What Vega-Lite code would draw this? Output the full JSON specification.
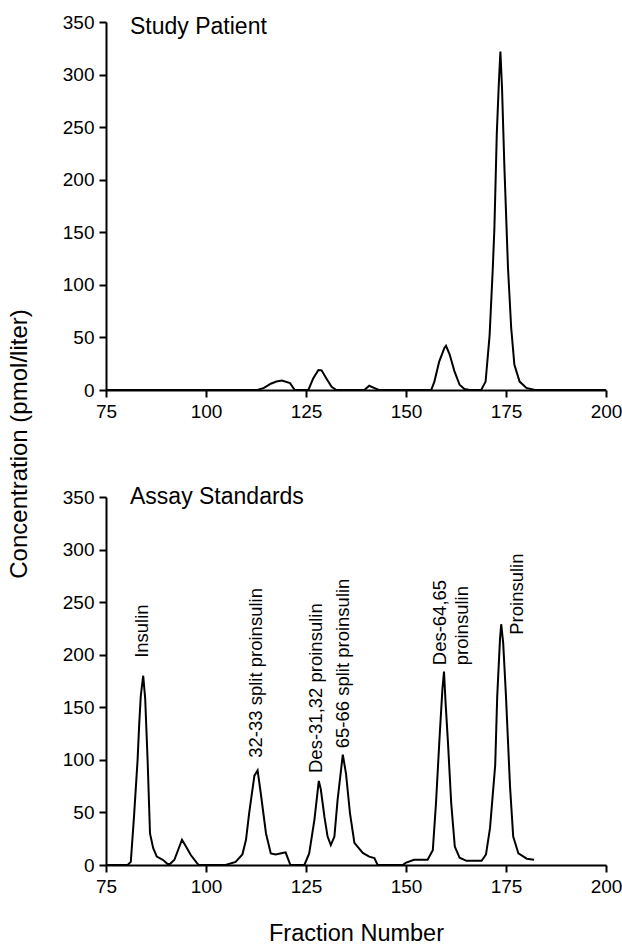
{
  "$schema": "https://vega.github.io/schema/vega-lite/v6.json",
  "background": "white",
  "padding": {"left": 7, "top": 13, "right": 0, "bottom": 0},
  "config": {
    "view": {"stroke": null},
    "font": "Liberation Sans",
    "axis": {
      "domainColor": "black", "domainWidth": 2,
      "tickColor": "black", "tickWidth": 2, "tickSize": 7,
      "labelColor": "black", "labelFont": "Liberation Sans", "labelFontSize": 19, "labelPadding": 5,
      "labelFlush": false, "labelOverlap": false,
      "grid": false,
      "titleColor": "black", "titleFont": "Liberation Sans", "titleFontWeight": "normal", "titleFontSize": 23.5
    }
  },
  "datasets": {
    "patient": [
      {"fraction": 75, "conc": 0}, {"fraction": 112.9, "conc": 0}, {"fraction": 114.5, "conc": 2}, {"fraction": 116.2, "conc": 6},
      {"fraction": 117.6, "conc": 8}, {"fraction": 119.0, "conc": 9}, {"fraction": 121.0, "conc": 6.5}, {"fraction": 122.2, "conc": 0},
      {"fraction": 125.6, "conc": 0}, {"fraction": 126.8, "conc": 11}, {"fraction": 128.1, "conc": 19}, {"fraction": 128.9, "conc": 18.7},
      {"fraction": 130.1, "conc": 11}, {"fraction": 131.4, "conc": 3}, {"fraction": 132.6, "conc": 0},
      {"fraction": 139.6, "conc": 0}, {"fraction": 140.8, "conc": 4}, {"fraction": 142.0, "conc": 2}, {"fraction": 143.2, "conc": 0},
      {"fraction": 156.3, "conc": 0}, {"fraction": 157.1, "conc": 8}, {"fraction": 158.3, "conc": 27}, {"fraction": 159.6, "conc": 40},
      {"fraction": 160.0, "conc": 42}, {"fraction": 160.9, "conc": 34}, {"fraction": 162.1, "conc": 18}, {"fraction": 163.4, "conc": 5},
      {"fraction": 164.6, "conc": 1}, {"fraction": 165.9, "conc": 0},
      {"fraction": 168.8, "conc": 0}, {"fraction": 169.9, "conc": 8}, {"fraction": 170.9, "conc": 52}, {"fraction": 171.7, "conc": 116},
      {"fraction": 172.1, "conc": 154}, {"fraction": 172.7, "conc": 244}, {"fraction": 173.2, "conc": 291}, {"fraction": 173.6, "conc": 322},
      {"fraction": 174.0, "conc": 288}, {"fraction": 174.6, "conc": 212}, {"fraction": 175.5, "conc": 116}, {"fraction": 176.3, "conc": 59},
      {"fraction": 177.1, "conc": 24}, {"fraction": 178.4, "conc": 8}, {"fraction": 180.1, "conc": 2}, {"fraction": 182.2, "conc": 0},
      {"fraction": 200, "conc": 0}
    ],
    "standards": [
      {"fraction": 75, "conc": 0}, {"fraction": 80.4, "conc": 0}, {"fraction": 81.2, "conc": 3}, {"fraction": 82.0, "conc": 46},
      {"fraction": 82.9, "conc": 100}, {"fraction": 83.3, "conc": 134}, {"fraction": 83.7, "conc": 161}, {"fraction": 84.3, "conc": 180},
      {"fraction": 84.8, "conc": 158}, {"fraction": 85.4, "conc": 100}, {"fraction": 86.0, "conc": 30}, {"fraction": 86.8, "conc": 16},
      {"fraction": 87.7, "conc": 8}, {"fraction": 89.2, "conc": 5}, {"fraction": 90.4, "conc": 1}, {"fraction": 91.0, "conc": 1},
      {"fraction": 92.1, "conc": 5}, {"fraction": 94.0, "conc": 24}, {"fraction": 95.0, "conc": 17.5}, {"fraction": 96.2, "conc": 9.5},
      {"fraction": 97.8, "conc": 1.6}, {"fraction": 98.2, "conc": 0},
      {"fraction": 104.9, "conc": 0}, {"fraction": 107.4, "conc": 3}, {"fraction": 109.1, "conc": 10}, {"fraction": 110.0, "conc": 24},
      {"fraction": 110.8, "conc": 49.5}, {"fraction": 112.1, "conc": 85}, {"fraction": 112.9, "conc": 90}, {"fraction": 113.7, "conc": 68},
      {"fraction": 115.0, "conc": 30}, {"fraction": 116.2, "conc": 11}, {"fraction": 117.4, "conc": 10}, {"fraction": 119.1, "conc": 11.5},
      {"fraction": 119.9, "conc": 12}, {"fraction": 120.4, "conc": 7}, {"fraction": 121.1, "conc": 0},
      {"fraction": 124.6, "conc": 0}, {"fraction": 125.8, "conc": 11}, {"fraction": 127.1, "conc": 43}, {"fraction": 128.2, "conc": 80},
      {"fraction": 128.7, "conc": 72}, {"fraction": 129.6, "conc": 46}, {"fraction": 130.4, "conc": 27}, {"fraction": 131.2, "conc": 19},
      {"fraction": 132.1, "conc": 27}, {"fraction": 132.9, "conc": 62}, {"fraction": 134.2, "conc": 105}, {"fraction": 135.0, "conc": 87},
      {"fraction": 136.0, "conc": 49}, {"fraction": 137.1, "conc": 21}, {"fraction": 139.2, "conc": 11.5}, {"fraction": 140.8, "conc": 8},
      {"fraction": 142.1, "conc": 6.5}, {"fraction": 142.9, "conc": 0},
      {"fraction": 149.2, "conc": 0}, {"fraction": 149.9, "conc": 2}, {"fraction": 152.0, "conc": 5}, {"fraction": 155.4, "conc": 5},
      {"fraction": 156.7, "conc": 14}, {"fraction": 157.5, "conc": 59}, {"fraction": 158.4, "conc": 122}, {"fraction": 159.1, "conc": 167},
      {"fraction": 159.5, "conc": 184}, {"fraction": 159.9, "conc": 154}, {"fraction": 160.5, "conc": 116}, {"fraction": 161.3, "conc": 59},
      {"fraction": 162.2, "conc": 17.5}, {"fraction": 163.4, "conc": 7}, {"fraction": 165.1, "conc": 4}, {"fraction": 168.9, "conc": 4},
      {"fraction": 170.0, "conc": 10}, {"fraction": 171.0, "conc": 35}, {"fraction": 172.3, "conc": 95}, {"fraction": 172.8, "conc": 160},
      {"fraction": 173.5, "conc": 215}, {"fraction": 173.8, "conc": 229}, {"fraction": 174.3, "conc": 211}, {"fraction": 175.0, "conc": 160},
      {"fraction": 176.0, "conc": 75}, {"fraction": 176.8, "conc": 27}, {"fraction": 178.1, "conc": 11}, {"fraction": 180.2, "conc": 6},
      {"fraction": 182.0, "conc": 5}
    ],
    "labels": [
      {"fraction": 84.1, "conc": 197, "label": "Insulin"},
      {"fraction": 112.4, "conc": 102, "label": "32-33 split proinsulin"},
      {"fraction": 127.6, "conc": 87.5, "label": "Des-31,32 proinsulin"},
      {"fraction": 134.3, "conc": 111, "label": "65-66 split proinsulin"},
      {"fraction": 158.6, "conc": 190, "label": "Des-64,65"},
      {"fraction": 164.1, "conc": 190, "label": "proinsulin"},
      {"fraction": 177.8, "conc": 219, "label": "Proinsulin"}
    ]
  },
  "bounds": "flush",
  "spacing": 107,
  "vconcat": [
    {
      "width": 500,
      "height": 368,
      "layer": [
        {
          "data": {"name": "patient"},
          "mark": {"type": "line", "color": "black", "strokeWidth": 2},
          "encoding": {
            "x": {"field": "fraction", "type": "quantitative", "scale": {"domain": [75, 200], "nice": false, "zero": false},
                  "axis": {"values": [75, 100, 125, 150, 175, 200], "title": null}},
            "y": {"field": "conc", "type": "quantitative", "scale": {"domain": [0, 350], "nice": false},
                  "axis": {"values": [0, 50, 100, 150, 200, 250, 300, 350], "title": "Concentration (pmol/liter)",
                           "titleFontSize": 24, "titleX": -87, "titleY": 421.5, "titleAngle": 270, "titleAlign": "center", "titleBaseline": "middle"}}
          }
        },
        {
          "data": {"values": [{"panel": "Study Patient"}]},
          "mark": {"type": "text", "align": "left", "baseline": "alphabetic", "fontSize": 23, "font": "Liberation Sans", "color": "black"},
          "encoding": {
            "x": {"datum": 81},
            "y": {"datum": 339},
            "text": {"field": "panel", "type": "nominal"}
          }
        }
      ]
    },
    {
      "width": 500,
      "height": 368,
      "layer": [
        {
          "data": {"name": "standards"},
          "mark": {"type": "line", "color": "black", "strokeWidth": 2},
          "encoding": {
            "x": {"field": "fraction", "type": "quantitative", "scale": {"domain": [75, 200], "nice": false, "zero": false},
                  "axis": {"values": [75, 100, 125, 150, 175, 200], "title": "Fraction Number", "titleY": 75, "titleBaseline": "alphabetic"}},
            "y": {"field": "conc", "type": "quantitative", "scale": {"domain": [0, 350], "nice": false},
                  "axis": {"values": [0, 50, 100, 150, 200, 250, 300, 350], "title": null}}
          }
        },
        {
          "data": {"values": [{"panel": "Assay Standards"}]},
          "mark": {"type": "text", "align": "left", "baseline": "alphabetic", "fontSize": 23, "font": "Liberation Sans", "color": "black"},
          "encoding": {
            "x": {"datum": 81},
            "y": {"datum": 343},
            "text": {"field": "panel", "type": "nominal"}
          }
        },
        {
          "data": {"name": "labels"},
          "mark": {"type": "text", "angle": 270, "align": "left", "baseline": "middle", "fontSize": 18.5, "font": "Liberation Sans", "color": "black"},
          "encoding": {
            "x": {"field": "fraction", "type": "quantitative"},
            "y": {"field": "conc", "type": "quantitative"},
            "text": {"field": "label", "type": "nominal"}
          }
        }
      ]
    }
  ]
}
